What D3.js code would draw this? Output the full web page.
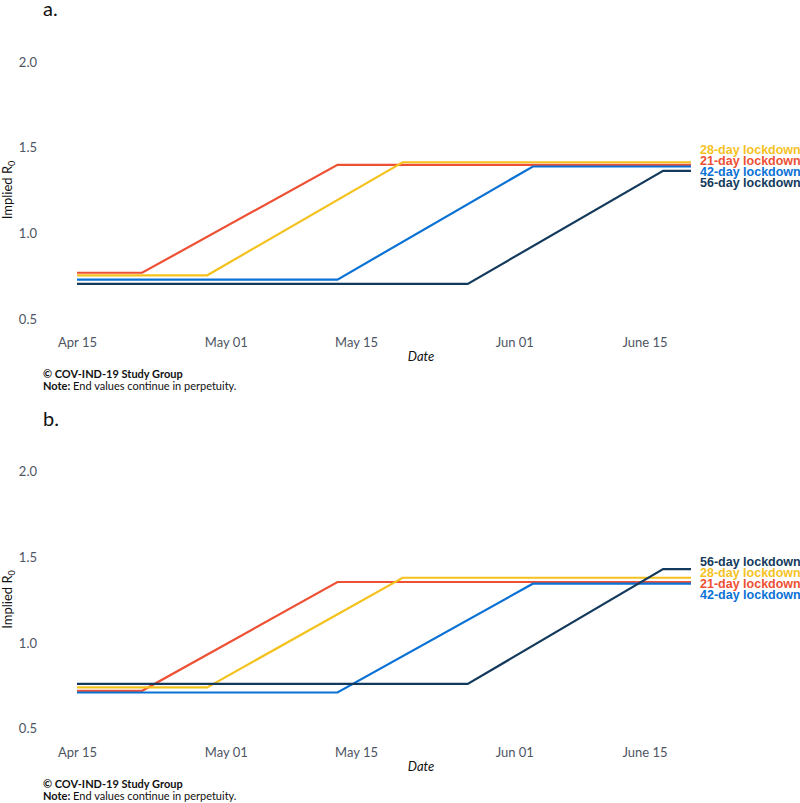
<!DOCTYPE html>
<html>
<head>
<meta charset="utf-8">
<script src="https://cdn.jsdelivr.net/npm/d3@7"></script>
<style>
  body { margin: 0; background: #fff; }
  svg { display: block; }
  .tick text { font-family: Lato, sans-serif; font-size: 13px; fill: #4d5563; }
</style>
</head>
<body>
<div id="chart"></div>
<script>
// series, in draw order
var seriesNames = ['21-day lockdown', '28-day lockdown', '42-day lockdown', '56-day lockdown'];
var seriesColors = ['#ee5034', '#f4c21f', '#0b72d5', '#133a5c'];

// breakpoints of each piecewise line (start, end of flat part, end of rise, last day)
var breakDates = [
    ['2020-04-15', '2020-04-22', '2020-05-13', '2020-06-20'],
    ['2020-04-15', '2020-04-29', '2020-05-20', '2020-06-20'],
    ['2020-04-15', '2020-05-13', '2020-06-03', '2020-06-20'],
    ['2020-04-15', '2020-05-27', '2020-06-17', '2020-06-20']
];

// implied R0 at those breakpoints
var valuesA = [
    [0.77, 0.77, 1.40, 1.40],
    [0.755, 0.755, 1.415, 1.415],
    [0.73, 0.73, 1.39, 1.39],
    [0.705, 0.705, 1.365, 1.365]
];
var valuesB = [
    [0.72, 0.72, 1.355, 1.355],
    [0.74, 0.74, 1.38, 1.38],
    [0.71, 0.71, 1.345, 1.345],
    [0.76, 0.76, 1.43, 1.43]
];

var xTickDates = ['2020-04-15', '2020-05-01', '2020-05-15', '2020-06-01', '2020-06-15'];
var xTickLabels = ['Apr 15', 'May 01', 'May 15', 'Jun 01', 'June 15'];
var yTicks = [0.5, 1.0, 1.5, 2.0];

var parse = d3.utcParse('%Y-%m-%d');

var width = 800;
var height = 803;

var svg = d3
    .select('#chart')
    .append('svg')
    .attr('width', width)
    .attr('height', height);

var x = d3.scaleUtc()
    .domain([parse('2020-04-15'), parse('2020-06-20')])
    .range([77, 691]);

var y = d3.scaleLinear()
    .domain([0.5, 2.0])
    .range([319, 62]);

var line = d3.line()
    .x(d => x(d.date))
    .y(d => y(d.value));

function drawPanel(tag, values, offset) {
    var g = svg.append('g').attr('transform', `translate(0, ${offset})`);

    g.append('text')
        .attr('x', 43)
        .attr('y', 16)
        .style('font-family', 'Lato, sans-serif')
        .style('font-size', '20px')
        .style('fill', '#111')
        .text(tag);

    g.append('g')
        .attr('transform', 'translate(40, 0)')
        .call(d3.axisLeft(y).tickValues(yTicks).tickFormat(d3.format('.1f')).tickSize(0).tickPadding(3))
        .call(a => a.select('.domain').remove());

    g.append('g')
        .attr('transform', 'translate(0, 335)')
        .call(d3.axisBottom(x)
            .tickValues(xTickDates.map(parse))
            .tickFormat((d, i) => xTickLabels[i])
            .tickSize(0).tickPadding(3))
        .call(a => a.select('.domain').remove());

    var yLab = g.append('text')
        .attr('transform', 'translate(12, 190)rotate(-90)')
        .attr('text-anchor', 'middle')
        .style('font-family', 'Lato, sans-serif')
        .style('font-size', '13px')
        .style('fill', '#111');
    yLab.append('tspan').text('Implied R');
    yLab.append('tspan').attr('dy', 3).style('font-size', '9px').text('0');

    g.append('text')
        .attr('x', 421)
        .attr('y', 361)
        .attr('text-anchor', 'middle')
        .style('font-family', 'Lato, sans-serif')
        .style('font-size', '13px')
        .style('font-style', 'italic')
        .style('fill', '#111')
        .text('Date');

    var cap = g.append('text')
        .attr('x', 43)
        .attr('y', 378)
        .style('font-family', 'Lato, sans-serif')
        .style('font-size', '11px')
        .style('fill', '#111');
    cap.append('tspan').style('font-weight', 'bold').text('\u00a9 COV-IND-19 Study Group');

    var note = g.append('text')
        .attr('x', 43)
        .attr('y', 390)
        .style('font-family', 'Lato, sans-serif')
        .style('font-size', '11px')
        .style('fill', '#111');
    note.append('tspan').style('font-weight', 'bold').text('Note:');
    note.append('tspan').text(' End values continue in perpetuity.');

    var series = seriesNames.map((name, i) => ({
        name: name,
        color: seriesColors[i],
        points: breakDates[i].map((d, j) => ({ date: parse(d), value: values[i][j] }))
    }));

    g.selectAll('.series')
        .data(series)
        .enter()
        .append('path')
        .attr('class', 'series')
        .attr('d', d => line(d.points))
        .attr('fill', 'none')
        .attr('stroke', d => d.color)
        .attr('stroke-width', 2.2);

    // end labels, stacked by end value and centred on the line ends
    var ends = series.map(s => ({ s: s, yEnd: y(s.points[s.points.length - 1].value) }))
        .sort((a, b) => a.yEnd - b.yEnd);
    var mid = d3.mean(ends, e => e.yEnd);
    var step = 11;

    g.selectAll('.lab')
        .data(ends)
        .enter()
        .append('text')
        .attr('class', 'lab')
        .attr('x', 700)
        .attr('y', (d, i) => mid + (i - (ends.length - 1) / 2) * step)
        .attr('dy', '0.36em')
        .style('font-family', '"Liberation Sans", Arial, sans-serif')
        .style('font-size', '12.5px')
        .style('font-weight', 'bold')
        .style('fill', d => d.s.color)
        .text(d => d.s.name);
}

drawPanel('a.', valuesA, 0);
drawPanel('b.', valuesB, 409.5);
</script>
</body>
</html>
